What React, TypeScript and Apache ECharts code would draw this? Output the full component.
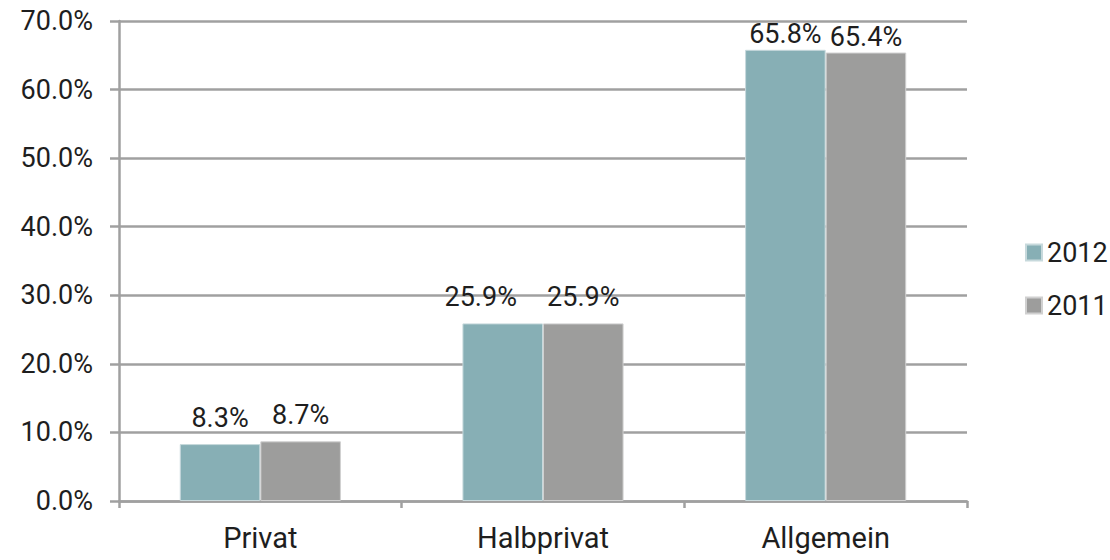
import React, { useEffect, useRef } from "react";
import * as echarts from "echarts";

const categories = ["Privat", "Halbprivat", "Allgemein"];
const series2012 = [8.3, 25.9, 65.8];
const series2011 = [8.7, 25.9, 65.4];
const seriesNames = ["2012", "2011"];
const yTicks = { min: 0, max: 70, interval: 10 };

const FONT = "Roboto";
const TEXT = "#1e1e1e";
const AXIS = "#a0a0a0";
const FS = 27;

export default function App() {
  const ref = useRef<HTMLDivElement>(null);
  useEffect(() => {
    if (!ref.current) return;
    const chart = echarts.init(ref.current, undefined, { renderer: "svg" });
    const mkData = (vals: number[], shiftMiddle: number) =>
      vals.map((v, i) => ({
        value: v,
        label: { distance: i === 2 ? 2 : 13, offset: i === 1 ? [shiftMiddle, 0] : [0, 0] },
      }));
    const lbl = {
      show: true,
      position: "top",
      fontFamily: FONT,
      fontSize: FS,
      color: TEXT,
      formatter: (p: any) => p.value.toFixed(1) + "%",
    };
    chart.setOption({
      animation: false,
      textStyle: { fontFamily: FONT },
      grid: { left: 119, right: 143, top: 21, bottom: 59, containLabel: false },
      legend: {
        orient: "vertical",
        left: 1020,
        top: 234,
        itemWidth: 16,
        itemHeight: 16,
        itemGap: 26,
        icon: "rect",
        textStyle: { fontFamily: FONT, fontSize: FS, color: TEXT },
        data: seriesNames,
      },
      xAxis: {
        type: "category",
        data: categories,
        axisLine: { lineStyle: { color: AXIS, width: 2.5 } },
        axisTick: { show: true, length: 7, inside: false, lineStyle: { color: AXIS, width: 2.5 } },
        axisLabel: { fontFamily: FONT, fontSize: 29, color: TEXT, margin: 22 },
      },
      yAxis: {
        type: "value",
        min: yTicks.min,
        max: yTicks.max,
        interval: yTicks.interval,
        axisLine: { show: true, lineStyle: { color: AXIS, width: 2.5 } },
        axisTick: { show: true, length: 9, lineStyle: { color: AXIS, width: 2.5 } },
        splitLine: { lineStyle: { color: AXIS, width: 2.5 } },
        axisLabel: {
          fontFamily: FONT,
          fontSize: FS,
          color: TEXT,
          margin: 26,
          formatter: (v: number) => v.toFixed(1) + "%",
        },
      },
      series: [
        {
          name: seriesNames[0],
          type: "bar",
          data: mkData(series2012, -22),
          barGap: "0%",
          barCategoryGap: "43%",
          itemStyle: { color: "#87afb5", borderColor: "#c7d9dc", borderWidth: 1 },
          label: lbl,
        },
        {
          name: seriesNames[1],
          type: "bar",
          data: mkData(series2011, 0),
          barGap: "0%",
          barCategoryGap: "43%",
          itemStyle: { color: "#9d9d9c", borderColor: "#d0d0d0", borderWidth: 1 },
          label: lbl,
        },
      ],
    });
    return () => chart.dispose();
  }, []);
  return <div ref={ref} style={{ width: 1110, height: 560, position: "absolute", left: 0, top: 0 }} />;
}
